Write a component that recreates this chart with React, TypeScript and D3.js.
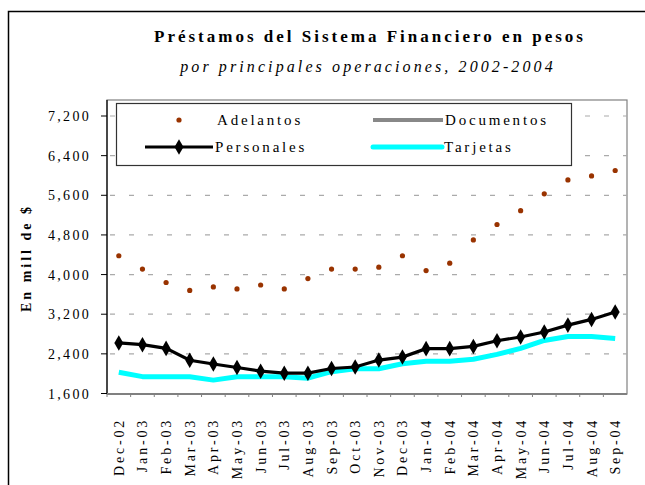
import React from "react";
import * as d3 from "d3";

const categories = ["Dec-02","Jan-03","Feb-03","Mar-03","Apr-03","May-03","Jun-03","Jul-03","Aug-03","Sep-03","Oct-03","Nov-03","Dec-03","Jan-04","Feb-04","Mar-04","Apr-04","May-04","Jun-04","Jul-04","Aug-04","Sep-04"];
const adelantos = [4380,4110,3840,3680,3750,3710,3790,3710,3920,4110,4110,4150,4380,4080,4230,4700,5010,5290,5630,5910,5990,6100];
const personales = [2620,2585,2510,2270,2195,2125,2050,2010,2010,2105,2135,2275,2335,2505,2505,2550,2665,2740,2840,2980,3095,3245];
const tarjetas = [2030,1940,1940,1940,1870,1940,1940,1940,1910,2040,2100,2100,2200,2250,2250,2290,2390,2510,2670,2750,2750,2710];
const documentos: number[] = [];
const yTicks = [1600,2400,3200,4000,4800,5600,6400,7200];

const title = "Préstamos del Sistema Financiero en pesos";
const subtitle = "por principales operaciones, 2002-2004";
const yLabel = "En mill de $";

export default function App() {
  const left = 107, right = 627, top = 100, bottom = 394;
  const x = d3.scaleBand<string>().domain(categories).range([left, right]).padding(0);
  const cx = (c: string) => (x(c) as number) + x.bandwidth() / 2;
  const y = d3.scaleLinear().domain([1600, 7200]).range([393.5, 116]);
  const fmt = d3.format(",");
  const line = d3.line<number>().x((_, i) => cx(categories[i])).y(d => y(d));
  const font = "'Liberation Serif', serif";
  const diamond = d3.symbol().type(d3.symbolDiamond).size(70)() as string;
  const docLine = documentos.length ? line(documentos) : null;

  return (
    <svg width={645} height={485} style={{ position: "absolute", left: 0, top: 0 }} fontFamily={font}>
      <rect x={0} y={0} width={645} height={485} fill="#fff" />
      <rect x={8.5} y={11.5} width={660} height={500} fill="#fff" stroke="#000" strokeWidth={1.5} />
      <text x={370} y={42} textAnchor="middle" fontSize={17} fontWeight="bold" letterSpacing={3}>{title}</text>
      <text x={368} y={72} textAnchor="middle" fontSize={16} fontStyle="italic" letterSpacing={3.1}>{subtitle}</text>
      {/* plot frame */}
      <rect x={left} y={top} width={right - left} height={bottom - top} fill="#fff" stroke="#808080" strokeWidth={1.2} />
      {yTicks.filter(t => t > 1600).map(t => (
        <line key={t} x1={left} x2={right} y1={y(t)} y2={y(t)} stroke="#aaa" strokeWidth={1.2} strokeDasharray="5,14" strokeDashoffset={-3} />
      ))}
      <line x1={left} x2={left} y1={top} y2={bottom} stroke="#000" strokeWidth={1.2} />
      <line x1={left} x2={right} y1={bottom} y2={bottom} stroke="#808080" strokeWidth={2} />
      {categories.map(c => (
        <line key={c} x1={x(c) as number} x2={x(c) as number} y1={bottom} y2={bottom + 3} stroke="#808080" strokeWidth={1} />
      ))}
      {yTicks.map(t => (
        <g key={t}>
          <line x1={left - 6} x2={left} y1={y(t)} y2={y(t)} stroke="#000" strokeWidth={1} />
          <text x={left - 16} y={y(t) + 5} textAnchor="end" fontSize={14} letterSpacing={2.3}>{fmt(t)}</text>
        </g>
      ))}
      <text transform={`translate(31,258) rotate(-90)`} textAnchor="middle" fontSize={14} fontWeight="bold" letterSpacing={3}>{yLabel}</text>
      {categories.map(c => (
        <text key={c} transform={`translate(${cx(c) + 5},418) rotate(-90)`} textAnchor="end" fontSize={14} letterSpacing={2.8}>{c}</text>
      ))}
      {/* series */}
      {docLine && <path d={docLine} fill="none" stroke="#808080" strokeWidth={4} />}
      <path d={line(tarjetas) as string} fill="none" stroke="#00ffff" strokeWidth={5} strokeLinejoin="round" />
      <path d={line(personales) as string} fill="none" stroke="#000" strokeWidth={3.2} />
      {personales.map((v, i) => (
        <path key={i} d={diamond} transform={`translate(${cx(categories[i])},${y(v)})`} fill="#000" />
      ))}
      {adelantos.map((v, i) => (
        <circle key={i} cx={cx(categories[i])} cy={y(v)} r={2.6} fill="#993300" />
      ))}
      {/* legend */}
      <rect x={116.5} y={103.5} width={455} height={62} fill="#fff" stroke="#333" strokeWidth={1.2} />
      <circle cx={179} cy={120} r={2.6} fill="#993300" />
      <text x={217} y={125} fontSize={15} letterSpacing={2.8}>Adelantos</text>
      <line x1={373} x2={443} y1={120} y2={120} stroke="#888" strokeWidth={4} />
      <text x={445} y={125} fontSize={15} letterSpacing={2.8}>Documentos</text>
      <line x1={145} x2={213} y1={147} y2={147} stroke="#000" strokeWidth={3.2} />
      <path d={diamond} transform="translate(179,147)" fill="#000" />
      <text x={215} y={152} fontSize={15} letterSpacing={2.8}>Personales</text>
      <line x1={373} x2={442} y1={147} y2={147} stroke="#00ffff" strokeWidth={5} strokeLinecap="round" />
      <text x={444} y={152} fontSize={15} letterSpacing={2.8}>Tarjetas</text>
    </svg>
  );
}
